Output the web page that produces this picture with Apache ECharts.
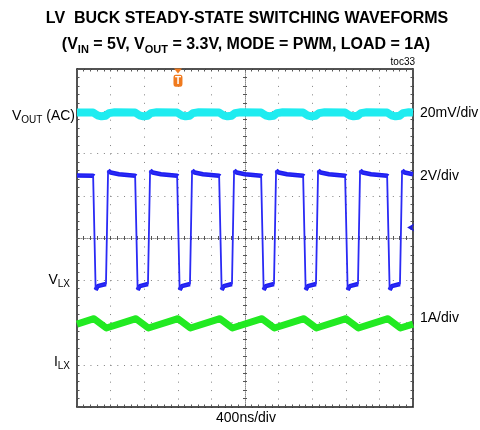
<!DOCTYPE html>
<html><head><meta charset="utf-8">
<script src="https://cdn.jsdelivr.net/npm/echarts@6/dist/echarts.min.js"></script>
<style>html,body{margin:0;padding:0;background:#fff}#c{width:480px;height:430px}</style>
</head><body><div id="c"></div>
<script>
// ---------- data ----------
const timeRangeNs = [0, 4000];               // 10 div x 400 ns/div
// V_LX switching node (volts), time in ns
const vlxWave = [
  [0,4.96],
  [192,4.95],[202,4.92],[222,-0.46],[247,-0.28],[345,-0.18],[350,-0.16],[370,5.20],[400,5.10],[500,5.02],
  [692,4.95],[702,4.92],[722,-0.46],[747,-0.28],[845,-0.18],[850,-0.16],[870,5.20],[900,5.10],[1000,5.02],
  [1192,4.95],[1202,4.92],[1222,-0.46],[1247,-0.28],[1345,-0.18],[1350,-0.16],[1370,5.20],[1400,5.10],[1500,5.02],
  [1692,4.95],[1702,4.92],[1722,-0.46],[1747,-0.28],[1845,-0.18],[1850,-0.16],[1870,5.20],[1900,5.10],[2000,5.02],
  [2192,4.95],[2202,4.92],[2222,-0.46],[2247,-0.28],[2345,-0.18],[2350,-0.16],[2370,5.20],[2400,5.10],[2500,5.02],
  [2692,4.95],[2702,4.92],[2722,-0.46],[2747,-0.28],[2845,-0.18],[2850,-0.16],[2870,5.20],[2900,5.10],[3000,5.02],
  [3192,4.95],[3202,4.92],[3222,-0.46],[3247,-0.28],[3345,-0.18],[3350,-0.16],[3370,5.20],[3400,5.10],[3500,5.02],
  [3692,4.95],[3702,4.92],[3722,-0.46],[3747,-0.28],[3845,-0.18],[3850,-0.16],[3870,5.20],[3900,5.10],[4000,5.02]
];
// I_LX inductor current (A)
const ilWave = [
  [0,0.96],[202,1.09],[350,0.87],[702,1.09],[850,0.87],[1202,1.09],[1350,0.87],[1702,1.09],[1850,0.87],
  [2202,1.09],[2350,0.87],[2702,1.09],[2850,0.87],[3202,1.09],[3350,0.87],[3702,1.09],[3850,0.87],[4000,0.96]
];
// V_OUT AC ripple (mV)
const voutWave = [
  [0,-0.6],
  [192,-0.6],[242,-1.9],[292,-2.4],[340,-2.1],[380,-0.9],[450,-0.5],
  [692,-0.6],[742,-1.9],[792,-2.4],[840,-2.1],[880,-0.9],[950,-0.5],
  [1192,-0.6],[1242,-1.9],[1292,-2.4],[1340,-2.1],[1380,-0.9],[1450,-0.5],
  [1692,-0.6],[1742,-1.9],[1792,-2.4],[1840,-2.1],[1880,-0.9],[1950,-0.5],
  [2192,-0.6],[2242,-1.9],[2292,-2.4],[2340,-2.1],[2380,-0.9],[2450,-0.5],
  [2692,-0.6],[2742,-1.9],[2792,-2.4],[2840,-2.1],[2880,-0.9],[2950,-0.5],
  [3192,-0.6],[3242,-1.9],[3292,-2.4],[3340,-2.1],[3380,-0.9],[3450,-0.5],
  [3692,-0.6],[3742,-1.9],[3792,-2.4],[3840,-2.1],[3880,-0.9],[3950,-0.5],[4000,-0.6]
];
const triggerTimeNs = 1202;
const triggerLevelV = 2.5;
// channel scales: per-division value and the division (from bottom) of the zero reference
const voutScale = {perDiv: 20, refDiv: 7};
const vlxScale  = {perDiv: 2,  refDiv: 3};
const ilScale   = {perDiv: 1,  refDiv: 1};
const scaleLabels = ['20mV/div', '2V/div', '1A/div'];
const timeLabel = '400ns/div';
const titleLine1 = 'LV  BUCK STEADY-STATE SWITCHING WAVEFORMS';
const titleLine2 = '(V{s|IN} = 5V, V{s|OUT} = 3.3V, MODE = PWM, LOAD = 1A)';
const tocLabel = 'toc33';
const channelNames = ['V{s|OUT} (AC)', 'V{s|LX}', 'I{s|LX}'];

// ---------- layout / style ----------
const DIVY = 8;
const FONT = '"Liberation Sans", Arial, Helvetica, sans-serif';
const BORDER = '#1a1a1a', TICK = '#555', GRIDC = '#808080', CENTERC = '#8c8c8c';

function chanAxis(s) {
  return {type:'value', show:false, min:-s.refDiv*s.perDiv, max:(DIVY-s.refDiv)*s.perDiv,
          axisLine:{onZero:false}, splitLine:{show:false}};
}
function gratX(position, center) {
  return {
    type:'value', min:-5, max:5, interval:1, position:position,
    axisLine: center
      ? {show: position==='bottom', onZero:true, onZeroAxisIndex:0, lineStyle:{color:CENTERC, width:1, type:[1,1]}}
      : {show:true, onZero:false, lineStyle:{color:BORDER, width:1.5}},
    axisTick:{show:true, inside:true, length: center?2:2.5, lineStyle:{color:TICK, width:1}},
    minorTick:{show:true, splitNumber:5, length: center?2:2.5, lineStyle:{color:TICK, width:1}},
    axisLabel:{show:false},
    splitLine:{show: (!center && position==='bottom'), lineStyle:{color:GRIDC, width:1, type:[1,7.45]}},
    minorSplitLine:{show:false}
  };
}
function gratY(position, center) {
  return {
    type:'value', min:-4, max:4, interval:1, position:position,
    axisLine: center
      ? {show: position==='left', onZero:true, onZeroAxisIndex:0, lineStyle:{color:CENTERC, width:1, type:[1,1]}}
      : {show:true, onZero:false, lineStyle:{color:BORDER, width:1.5}},
    axisTick:{show:true, inside:true, length: center?2:2.5, lineStyle:{color:TICK, width:1}},
    minorTick:{show:true, splitNumber:5, length: center?2:2.5, lineStyle:{color:TICK, width:1}},
    axisLabel:{show:false},
    splitLine:{show: (!center && position==='left'), lineStyle:{color:GRIDC, width:1, type:[1,5.72]}},
    minorSplitLine:{show:false}
  };
}
function plateaus(w) {
  const out = [];
  for (let i = 0; i < w.length; i++) {
    out.push(w[i]);
    if (i < w.length-1 && Math.abs(w[i+1][1]-w[i][1]) > 2) out.push([(w[i][0]+w[i+1][0])/2, null]);
  }
  return out;
}
function txt(x, y, text, size, weight, align, rich) {
  return {type:'text', x:x, y:y, silent:true, z:100,
    style:{text:text, fontSize:size, fontWeight:weight||'normal', fontFamily:FONT, fill:'#000',
      align:align||'center', verticalAlign:'middle', textAlign:align||'center', textVerticalAlign:'middle',
      rich: rich || {}}};
}
const subBold = {s:{fontSize:11, fontWeight:'bold', fontFamily:FONT, fill:'#000', padding:[9,0,0,0]}};
const subNorm = {s:{fontSize:10, fontWeight:'normal', fontFamily:FONT, fill:'#000', padding:[8,0,0,0]}};

const chart = echarts.init(document.getElementById('c'), null, {renderer:'canvas'});
const vlxAxisIdx = 4, ilAxisIdx = 5, voutAxisIdx = 6;
const topDiv = 7.95, boxDiv = 7.72, arrowT = 3930;
chart.setOption({
  animation:false,
  backgroundColor:'#fff',
  grid:{left:77, top:69, width:336, height:338, containLabel:false, outerBoundsMode:'none'},
  xAxis:[
    gratX('bottom', false), gratX('top', false), gratX('bottom', true), gratX('top', true),
    {type:'value', show:false, min:timeRangeNs[0], max:timeRangeNs[1], axisLine:{onZero:false}, splitLine:{show:false}}
  ],
  yAxis:[
    gratY('left', false), gratY('right', false), gratY('left', true), gratY('right', true),
    chanAxis(vlxScale), chanAxis(ilScale), chanAxis(voutScale)
  ],
  series:[
    {type:'line', name:'VOUT', xAxisIndex:4, yAxisIndex:voutAxisIdx, data:voutWave, showSymbol:false, symbol:'none',
     lineStyle:{color:'#1fecf0', width:8, join:'round'}, z:3},
    {type:'line', name:'ILX', xAxisIndex:4, yAxisIndex:ilAxisIdx, data:ilWave, showSymbol:false, symbol:'none',
     lineStyle:{color:'#22ea22', width:7, join:'round'}, z:3},
    {type:'line', name:'VLXband', xAxisIndex:4, yAxisIndex:vlxAxisIdx, data:plateaus(vlxWave), showSymbol:false, symbol:'none',
     connectNulls:false, lineStyle:{color:'#1d1df0', width:4.5}, z:4},
    {type:'line', name:'VLX', xAxisIndex:4, yAxisIndex:vlxAxisIdx, data:vlxWave, showSymbol:false, symbol:'none',
     lineStyle:{color:'#2a2af5', width:1.8}, z:4,
     markPoint:{silent:true, animation:false, data:[
       {coord:[triggerTimeNs, (topDiv-vlxScale.refDiv)*vlxScale.perDiv], symbol:'triangle', symbolSize:[8,5], symbolRotate:180,
        itemStyle:{color:'#f07a1e'}, label:{show:false}},
       {coord:[triggerTimeNs, (boxDiv-vlxScale.refDiv)*vlxScale.perDiv], symbol:'roundRect', symbolSize:[9,12],
        itemStyle:{color:'#f07a1e'}, label:{show:true, position:'inside', formatter:'T', color:'#fff', fontSize:10, fontWeight:'bold', fontFamily:FONT}},
       {coord:[arrowT, triggerLevelV], symbol:'arrow', symbolSize:[6,7], symbolRotate:90,
        itemStyle:{color:'#2020e0'}, label:{show:false}}
     ]}}
  ],
  graphic:[
    txt(247, 19, titleLine1, 16, 'bold'),
    txt(246, 45, titleLine2, 16, 'bold', 'center', subBold),
    txt(415, 62, tocLabel, 10, 'normal', 'right'),
    txt(75, 116, channelNames[0], 14, 'normal', 'right', subNorm),
    txt(70, 280, channelNames[1], 14, 'normal', 'right', subNorm),
    txt(70, 362, channelNames[2], 14, 'normal', 'right', subNorm),
    txt(420, 113, scaleLabels[0], 14, 'normal', 'left'),
    txt(420, 176, scaleLabels[1], 14, 'normal', 'left'),
    txt(420, 318, scaleLabels[2], 14, 'normal', 'left'),
    txt(246, 418, timeLabel, 14, 'normal', 'center')
  ]
});
</script></body></html>
